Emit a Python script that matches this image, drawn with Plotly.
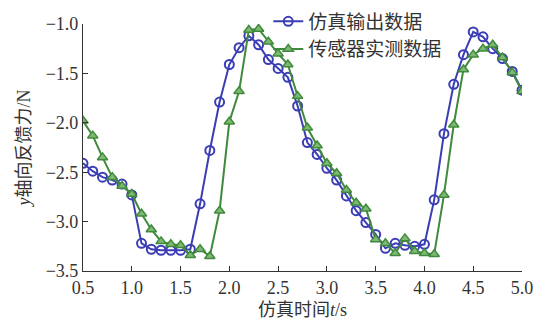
import plotly.graph_objects as go

t = [0.5, 0.6, 0.7, 0.8, 0.9, 1.0, 1.1, 1.2, 1.3, 1.4, 1.5, 1.6, 1.7, 1.8, 1.9, 2.0,
     2.1, 2.2, 2.3, 2.4, 2.5, 2.6, 2.7, 2.8, 2.9, 3.0, 3.1, 3.2, 3.3, 3.4, 3.5, 3.6,
     3.7, 3.8, 3.9, 4.0, 4.1, 4.2, 4.3, 4.4, 4.5, 4.6, 4.7, 4.8, 4.9, 5.0]

sim = [-2.41, -2.49, -2.55, -2.58, -2.62, -2.73, -3.22, -3.28, -3.29, -3.29, -3.29, -3.28,
       -2.82, -2.28, -1.79, -1.41, -1.24, -1.12, -1.21, -1.36, -1.45, -1.54, -1.83, -2.20,
       -2.32, -2.46, -2.58, -2.74, -2.89, -3.01, -3.13, -3.27, -3.22, -3.24, -3.25, -3.23,
       -2.78, -2.11, -1.61, -1.31, -1.08, -1.13, -1.25, -1.35, -1.48, -1.67]

sensor = [-1.98, -2.13, -2.35, -2.55, -2.64, -2.72, -2.92, -3.08, -3.20, -3.23, -3.24, -3.34,
          -3.28, -3.35, -2.89, -1.99, -1.68, -1.06, -1.05, -1.18, -1.30, -1.41, -1.73, -2.05,
          -2.23, -2.41, -2.51, -2.68, -2.81, -2.87, -3.18, -3.22, -3.32, -3.17, -3.30, -3.32,
          -3.33, -2.73, -2.02, -1.46, -1.31, -1.25, -1.21, -1.34, -1.49, -1.68]

names = ["仿真输出数据", "传感器实测数据"]
xticks = [0.5, 1.0, 1.5, 2.0, 2.5, 3.0, 3.5, 4.0, 4.5, 5.0]
yticks = [-1.0, -1.5, -2.0, -2.5, -3.0, -3.5]

blue = "#3b3db5"
green = "#3f8a3c"
serif = "Liberation Serif"
cjk = "Liberation Serif, Noto Sans CJK SC"

fig = go.Figure()
fig.add_trace(go.Scatter(
    x=t, y=sim, name=names[0], mode="lines+markers",
    line=dict(color=blue, width=2),
    marker=dict(symbol="circle-open", size=9, color=blue, line=dict(width=2)),
))
fig.add_trace(go.Scatter(
    x=t, y=sensor, name=names[1], mode="lines+markers",
    line=dict(color=green, width=2),
    marker=dict(symbol="triangle-up", size=9, color="#7fb872", line=dict(width=1.5, color=green)),
))

fig.update_layout(
    width=538, height=326,
    margin=dict(l=83, r=16, t=24, b=55, autoexpand=False),
    paper_bgcolor="white", plot_bgcolor="white",
    font=dict(family=cjk, size=18, color="#333333"),
    showlegend=True,
    legend=dict(x=0.422, y=1.087, xanchor="left", yanchor="top",
                bgcolor="rgba(0,0,0,0)", font=dict(size=19, family=cjk),
                tracegroupgap=0, itemwidth=30),
    xaxis=dict(range=[0.5, 5.0], tickvals=xticks, ticktext=[f"{v:.1f}" for v in xticks],
               tickfont=dict(family=serif, size=18),
               showgrid=False, zeroline=False, showline=True, linecolor="#333333", linewidth=1.2,
               ticks="inside", ticklen=5, tickcolor="#333333", automargin=False,
               title=dict(text="仿真时间<i>t</i>/s", standoff=6, font=dict(size=18, family=cjk))),
    yaxis=dict(range=[-3.5, -1.0], tickvals=yticks, ticktext=[f"{v:.1f}".replace("-", "\u2212") for v in yticks],
               tickfont=dict(family=serif, size=18),
               showgrid=False, zeroline=False, showline=True, linecolor="#333333", linewidth=1.2,
               ticks="inside", ticklen=5, tickcolor="#333333", automargin=False,
               title=dict(text="<i>y</i>轴向反馈力/N", standoff=10, font=dict(size=18, family=cjk))),
)

fig.write_html("out.html", config={"displayModeBar": False},
               post_script="document.body.style.margin='0';document.body.style.overflow='hidden';")
